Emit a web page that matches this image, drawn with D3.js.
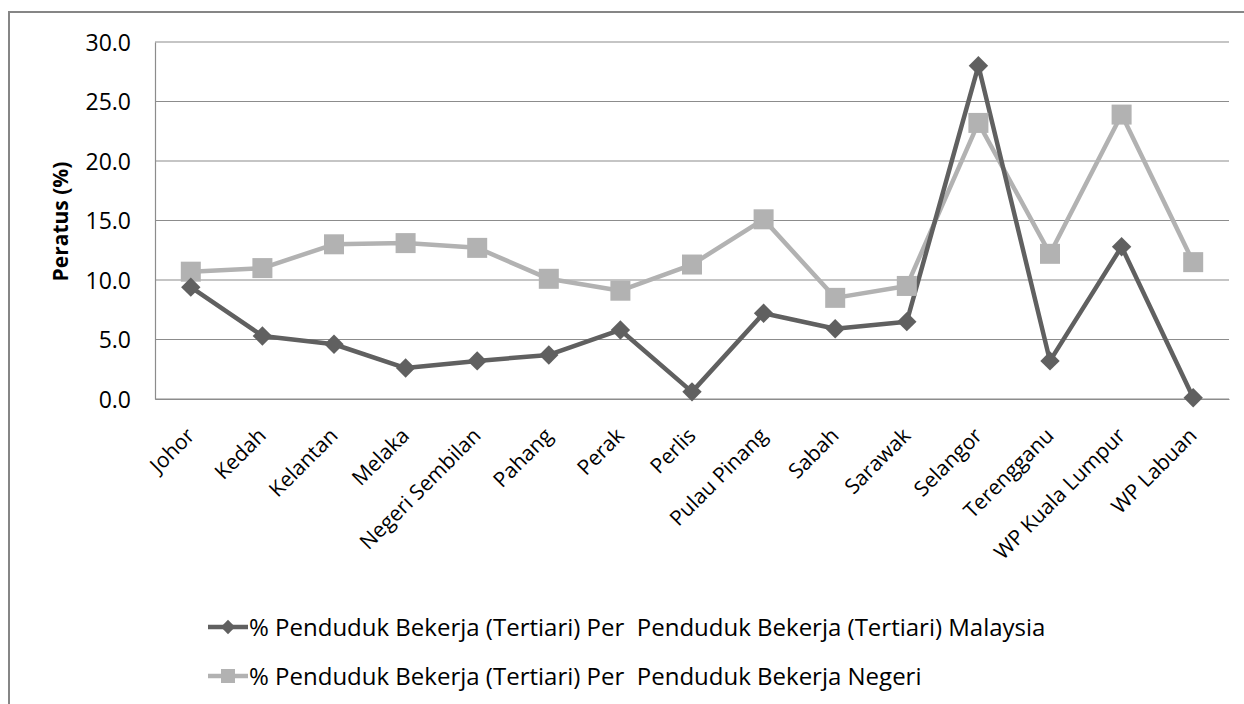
<!DOCTYPE html>
<html lang="en">
<head>
  <meta charset="UTF-8">
  <title>Penduduk Bekerja (Tertiari)</title>
  <style>
    body { margin: 0; background: #fff; }
    text { font-family: "Open Sans", "DejaVu Sans", sans-serif; fill: #000; }
  </style>
</head>
<body>
  <svg id="chart"></svg>
  <script src="https://cdn.jsdelivr.net/npm/d3@7"></script>
  <script>
    var states = ['Johor', 'Kedah', 'Kelantan', 'Melaka', 'Negeri Sembilan', 'Pahang', 'Perak', 'Perlis',
                  'Pulau Pinang', 'Sabah', 'Sarawak', 'Selangor', 'Terengganu', 'WP Kuala Lumpur', 'WP Labuan'];
    // % per penduduk bekerja (tertiari) Malaysia
    var perMalaysia = [9.4, 5.3, 4.6, 2.6, 3.2, 3.7, 5.8, 0.6, 7.2, 5.9, 6.5, 28.0, 3.2, 12.8, 0.1];
    // % per penduduk bekerja negeri
    var perNegeri = [10.7, 11.0, 13.0, 13.1, 12.7, 10.1, 9.1, 11.3, 15.1, 8.5, 9.5, 23.2, 12.2, 23.9, 11.5];
    var yTicks = [0, 5, 10, 15, 20, 25, 30];
    var seriesNames = ['% Penduduk Bekerja (Tertiari) Per  Penduduk Bekerja (Tertiari) Malaysia',
                       '% Penduduk Bekerja (Tertiari) Per  Penduduk Bekerja Negeri'];

    var W = 1244, H = 704;
    var svg = d3.select('#chart').attr('width', W).attr('height', H);

    // outer chart frame
    svg.append('rect')
       .attr('x', 9).attr('y', 12)
       .attr('width', W + 10).attr('height', H + 10)
       .attr('fill', 'none').attr('stroke', '#868686').attr('stroke-width', 2);

    var pLeft = 155, pRight = 1229, pTop = 42, pBottom = 399;

    var x = d3.scaleBand().domain(states).range([pLeft, pRight]);
    var y = d3.scaleLinear().domain([0, 30]).range([pBottom, pTop]);

    // gridlines
    svg.append('g')
       .selectAll('line')
       .data(yTicks)
       .enter()
       .append('line')
       .attr('x1', pLeft).attr('x2', pRight)
       .attr('y1', d => y(d)).attr('y2', d => y(d))
       .attr('stroke', '#8c8c8c').attr('stroke-width', 1.2);

    // y axis
    var yAxis = svg.append('g')
       .attr('transform', 'translate(' + pLeft + ',0)')
       .call(d3.axisLeft(y).tickValues(yTicks).tickFormat(d3.format('.1f')).tickSize(0).tickPadding(24));
    yAxis.select('.domain').attr('stroke', '#8c8c8c').attr('stroke-width', 1.2);
    yAxis.selectAll('text').style('font-size', '23px').attr('dy', '0.36em');

    // x axis
    var xAxis = svg.append('g')
       .attr('transform', 'translate(0,' + pBottom + ')')
       .call(d3.axisBottom(x).tickSize(0));
    xAxis.select('.domain').attr('stroke', '#8c8c8c').attr('stroke-width', 1.2);
    xAxis.selectAll('text')
         .style('font-size', '21px')
         .attr('text-anchor', 'end')
         .attr('y', 0)
         .attr('dy', 0)
         .attr('transform', 'translate(5,38) rotate(-45)');

    // y axis title
    svg.append('text')
       .attr('transform', 'translate(68,' + ((pTop + pBottom) / 2 + 1) + ') rotate(-90)')
       .attr('text-anchor', 'middle')
       .style('font-size', '21px')
       .style('font-weight', 'bold')
       .text('Peratus (%)');

    var cx = d => x(d) + x.bandwidth() / 2;
    var line = d3.line().x(d => cx(d.s)).y(d => y(d.v));
    var colors = ['#606060', '#b2b2b2'];
    var diamond = d3.symbol().type(d3.symbolDiamond2).size(240);

    function pts(arr) { return arr.map((v, i) => ({ s: states[i], v: v })); }

    // light series first, dark on top
    svg.append('path')
       .datum(pts(perNegeri))
       .attr('d', line)
       .attr('fill', 'none').attr('stroke', colors[1]).attr('stroke-width', 4.5)
       .attr('stroke-linejoin', 'round');
    svg.append('path')
       .datum(pts(perMalaysia))
       .attr('d', line)
       .attr('fill', 'none').attr('stroke', colors[0]).attr('stroke-width', 4.5)
       .attr('stroke-linejoin', 'round');

    svg.append('g')
       .selectAll('rect')
       .data(pts(perNegeri))
       .enter()
       .append('rect')
       .attr('x', d => cx(d.s) - 10).attr('y', d => y(d.v) - 10)
       .attr('width', 20).attr('height', 20)
       .attr('fill', colors[1]);

    svg.append('g')
       .selectAll('path')
       .data(pts(perMalaysia))
       .enter()
       .append('path')
       .attr('d', diamond)
       .attr('transform', d => 'translate(' + cx(d.s) + ',' + y(d.v) + ')')
       .attr('fill', colors[0]);

    // legend
    var legend = svg.append('g').selectAll('g')
       .data(seriesNames)
       .enter()
       .append('g')
       .attr('transform', (d, i) => 'translate(208,' + (627 + i * 49) + ')');
    legend.append('line')
       .attr('x1', 0).attr('x2', 40)
       .attr('stroke', (d, i) => colors[i]).attr('stroke-width', 4.5);
    legend.each(function (d, i) {
      var g = d3.select(this);
      if (i === 0) {
        g.append('path').attr('d', d3.symbol().type(d3.symbolDiamond2).size(130))
         .attr('transform', 'translate(20,0)').attr('fill', colors[0]);
      } else {
        g.append('rect').attr('x', 13).attr('y', -7).attr('width', 14).attr('height', 14)
         .attr('fill', colors[1]);
      }
    });
    legend.append('text')
       .attr('x', 41).attr('dy', '0.36em')
       .style('font-size', '24px')
       .style('white-space', 'pre')
       .text(d => d);
  </script>
</body>
</html>
